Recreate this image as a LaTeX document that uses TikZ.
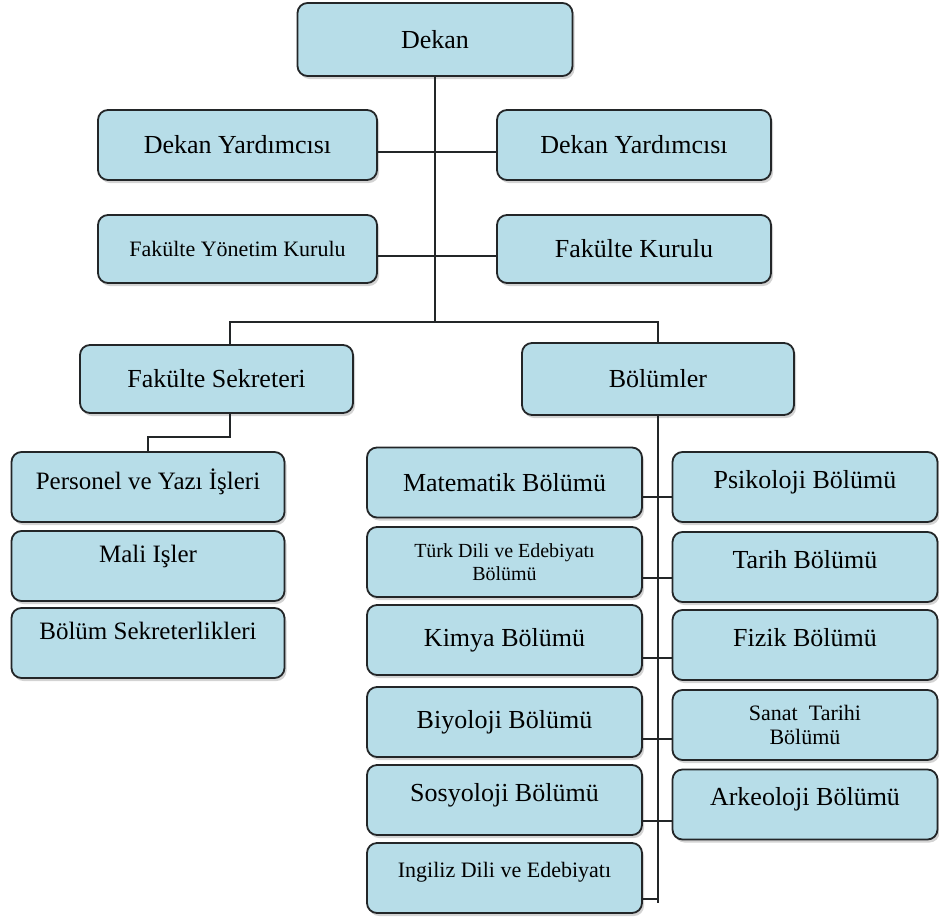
\documentclass[tikz,border=0pt]{standalone}
\usepackage{fontspec}
\setmainfont{Liberation Serif}
\usepackage{xcolor}
\usetikzlibrary{shadows}

\definecolor{boxblue}{RGB}{183,221,232}
\definecolor{boxline}{RGB}{35,38,40}

\begin{document}
\begin{tikzpicture}[
    x=1pt, y=-1pt,
    unit/.style = {rectangle, rounded corners=10pt, draw=boxline, line width=1.8pt,
                  fill=boxblue, inner sep=2pt, align=center,
                  drop shadow={shadow xshift=2pt, shadow yshift=-3pt, opacity=0.35}},
    bigtxt/.style = {font=\fontsize{26}{28}\selectfont},
    midtxt/.style = {font=\fontsize{25}{27}\selectfont},
    smalltxt/.style = {font=\fontsize{22}{24}\selectfont},
    tinytxt/.style = {font=\fontsize{20}{23}\selectfont},
    lift/.style = {text depth=16pt},
    liftmore/.style = {text depth=25pt},
    colA/.style = {minimum width=275pt, minimum height=70pt},
    colB/.style = {minimum width=265pt, minimum height=70pt},
    secw/.style = {minimum width=273pt, minimum height=70pt},
    link/.style = {draw=boxline, line width=1.7pt}
]
\useasboundingbox (0,0) rectangle (939,916);

% Top of the chart
\node[unit, bigtxt, minimum width=275pt, minimum height=73pt] (dekan) at (435,39.5) {Dekan};

\node[unit, bigtxt, minimum width=279pt, minimum height=70pt] (yrdL) at (237.5,145) {Dekan Yardımcısı};
\node[unit, bigtxt, minimum width=274pt, minimum height=70pt] (yrdR) at (634,145) {Dekan Yardımcısı};

\node[unit, smalltxt, minimum width=279pt, minimum height=68pt] (fyk) at (237.5,249) {Fakülte Yönetim Kurulu};
\node[unit, bigtxt, minimum width=274pt, minimum height=68pt] (fk) at (634,249) {Fakülte Kurulu};

\node[unit, bigtxt, minimum width=273pt, minimum height=68pt] (fs) at (216.5,379) {Fakülte Sekreteri};
\node[unit, bigtxt, minimum width=272pt, minimum height=72pt] (bol) at (658,379) {Bölümler};

% Secretary units
\node[unit, midtxt, secw, lift] (per) at (148,487) {Personel ve Yazı İşleri};
\node[unit, midtxt, secw, liftmore] (mali) at (148,566) {Mali Işler};
\node[unit, midtxt, secw, liftmore] (bsek) at (148,643) {Bölüm Sekreterlikleri};

% Departments (left column)
\node[unit, bigtxt, colA] (mat) at (504.5,482.5) {Matematik Bölümü};
\node[unit, tinytxt, colA] (turk) at (504.5,562) {Türk Dili ve Edebiyatı\\Bölümü};
\node[unit, bigtxt, colA] (kim) at (504.5,640) {Kimya Bölümü};
\node[unit, bigtxt, colA] (biy) at (504.5,722) {Biyoloji Bölümü};
\node[unit, bigtxt, colA, lift] (sos) at (504.5,800) {Sosyoloji Bölümü};
\node[unit, smalltxt, colA, lift] (ing) at (504.5,878) {Ingiliz Dili ve Edebiyatı};

% Departments (right column)
\node[unit, bigtxt, colB, lift] (psi) at (805,487) {Psikoloji Bölümü};
\node[unit, bigtxt, colB, lift] (tar) at (805,567) {Tarih Bölümü};
\node[unit, bigtxt, colB, lift] (fiz) at (805,645) {Fizik Bölümü};
\node[unit, smalltxt, colB] (san) at (805,725) {Sanat\enspace Tarihi\\Bölümü};
\node[unit, bigtxt, colB, lift] (ark) at (805,804.5) {Arkeoloji Bölümü};

% Lines
\coordinate (splitL) at (230,322);
\coordinate (splitR) at (658,322);
\coordinate (secbend) at (230,437);
\coordinate (trunkend) at (658,903);

\draw[link] (dekan.south) -- (dekan.south |- splitL);
\draw[link] ([yshift=-7pt]yrdL.east) -- ([yshift=-7pt]yrdR.west);
\draw[link] ([yshift=-7pt]fyk.east) -- ([yshift=-7pt]fk.west);
\draw[link] (fs.north -| splitL) -- (splitL) -- (splitR) -- (bol.north);
\draw[link] (fs.south -| splitL) -- (secbend) -| (per.north);

\draw[link] (bol.south) -- (trunkend);
\draw[link] ([yshift=-14.5pt]mat.east) -- ([yshift=-14.5pt]mat.east -| psi.west);
\draw[link] ([yshift=-16pt]turk.east) -- ([yshift=-16pt]turk.east -| tar.west);
\draw[link] ([yshift=-18pt]kim.east) -- ([yshift=-18pt]kim.east -| fiz.west);
\draw[link] ([yshift=-17pt]biy.east) -- ([yshift=-17pt]biy.east -| san.west);
\draw[link] ([yshift=-21pt]sos.east) -- ([yshift=-21pt]sos.east -| ark.west);
\draw[link] ([yshift=-21pt]ing.east) -- ([yshift=-21pt]ing.east -| trunkend);

\end{tikzpicture}
\end{document}
